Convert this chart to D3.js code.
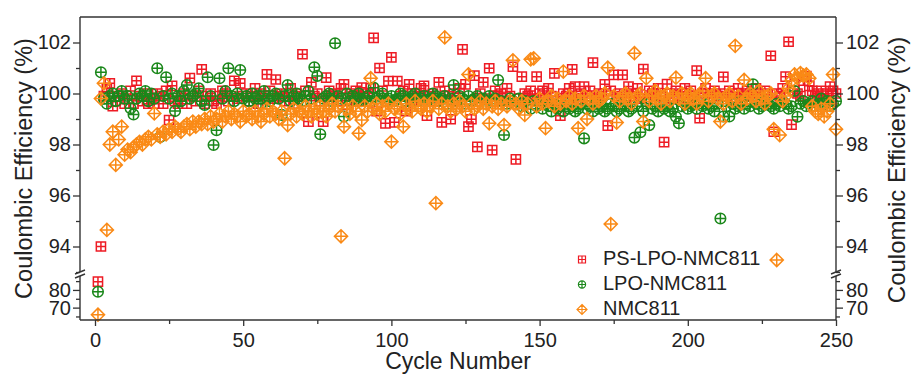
<!DOCTYPE html>
<html>
<head>
<meta charset="utf-8">
<script src="https://cdn.jsdelivr.net/npm/d3@7/dist/d3.min.js"></script>
<style>
  html, body { margin: 0; padding: 0; background: #fff; }
  svg { display: block; }
  text { font-family: "Liberation Sans", Arial, Helvetica, sans-serif; fill: #222; }
</style>
</head>
<body>
<svg id="chart" width="911" height="374"></svg>
<script>
// ---------------- DATA ----------------
const seriesNames = ["PS-LPO-NMC811", "LPO-NMC811", "NMC811"];
const xTicks = [0, 50, 100, 150, 200, 250];
const xMinorTicks = [25, 75, 125, 175, 225];
const yUpperTicks = [94, 96, 98, 100, 102];
const yUpperMinorTicks = [93, 95, 97, 99, 101];
const yLowerTicks = [70, 80];
const yLowerMinorTicks = [65, 75, 85];

// cycles 1..250
const psLpoNmc811 = [
  84.7, 94.0, 99.9, 100.2, 100.4, 99.5, 99.7, 99.9, 100.0, 99.6,
  99.8, 100.1, 99.6, 100.5, 99.9, 99.7, 100.0, 99.6, 99.8, 99.6,
  100.0, 99.9, 99.6, 100.1, 98.96, 100.3, 99.7, 99.6, 99.9, 100.0,
  99.6, 100.6, 99.9, 99.7, 100.1, 100.95, 99.6, 99.9, 100.0, 99.7,
  99.6, 99.9, 100.1, 100.0, 99.7, 99.9, 100.5, 99.8, 100.4, 99.9,
  100.0, 99.7, 99.9, 100.2, 99.6, 100.0, 99.9, 100.75, 100.1, 99.8,
  100.55, 99.9, 100.0, 99.7, 99.87, 100.2, 99.6, 100.0, 99.9, 101.54,
  100.1, 98.9, 100.44, 99.9, 100.0, 99.7, 98.9, 100.62, 100.1, 99.9,
  100.0, 99.7, 100.2, 100.36, 99.55, 100.0, 99.9, 100.1, 99.7, 100.23,
  99.9, 100.0, 100.2, 102.18, 99.31, 101.0, 100.1, 98.83, 100.49, 101.42,
  98.87, 100.49, 99.9, 100.1, 99.31, 100.36, 99.7, 100.0, 99.9, 100.2,
  100.3, 99.13, 99.9, 100.0, 99.7, 100.44, 98.87, 100.1, 99.9, 98.99,
  100.0, 99.7, 100.2, 101.73, 100.36, 98.7, 98.99, 100.7, 97.91, 100.0,
  100.44, 99.8, 100.99, 97.78, 100.1, 99.9, 100.0, 99.7, 100.2, 99.9,
  101.05, 97.42, 99.8, 100.66, 100.0, 99.9, 100.1, 99.8, 100.66, 100.0,
  100.1, 99.8, 100.2, 99.9, 100.79, 99.7, 99.13, 100.0, 99.9, 100.2,
  100.95, 100.27, 99.8, 100.0, 100.27, 99.9, 100.1, 101.21, 99.8, 100.0,
  99.9, 100.36, 98.74, 100.1, 100.73, 99.9, 100.0, 100.73, 99.8, 100.27,
  100.0, 99.9, 100.2, 99.8, 100.96, 99.68, 100.1, 100.0, 99.9, 100.2,
  99.9, 98.09, 100.37, 100.0, 99.8, 100.1, 99.9, 100.0, 100.2, 99.8,
  100.1, 99.9, 100.9, 99.03, 100.0, 100.2, 99.8, 100.0, 100.1, 99.9,
  100.0, 100.65, 99.9, 100.1, 100.0, 99.8, 100.2, 100.0, 99.9, 100.1,
  100.0, 99.9, 100.2, 100.0, 99.8, 100.1, 100.0, 101.48, 98.5, 100.0,
  99.9, 100.2, 100.66, 102.03, 98.78, 100.1, 100.0, 99.9, 100.5, 100.68,
  100.3, 100.1, 99.9, 100.0, 100.1, 99.8, 100.0, 100.27, 100.1, 100.0
];

const lpoNmc811 = [
  79.0, 100.83, 99.8, 99.6, 99.9, 100.0, 99.7, 99.9, 100.1, 99.8,
  99.9, 99.42, 99.18, 99.8, 100.0, 99.9, 100.1, 99.7, 100.0, 99.8,
  100.99, 98.3, 99.9, 100.64, 99.8, 100.0, 99.31, 99.9, 99.7, 100.1,
  100.33, 99.8, 99.9, 100.0, 100.2, 99.7, 99.55, 100.64, 99.9, 97.98,
  98.56, 100.6, 99.8, 100.1, 100.99, 99.9, 99.7, 100.0, 100.92, 99.8,
  99.9, 99.7, 100.0, 99.8, 99.9, 99.6, 100.1, 99.8, 99.7, 99.9,
  100.0, 99.8, 99.16, 99.9, 100.33, 99.7, 99.9, 100.0, 99.8, 99.7,
  99.9, 100.1, 99.8, 101.03, 100.69, 98.4, 99.8, 99.9, 100.0, 99.7,
  101.97, 99.9, 99.8, 99.1, 100.0, 99.7, 99.9, 99.8, 100.0, 99.7,
  99.8, 99.9, 99.7, 100.23, 99.8, 99.9, 100.0, 99.7, 99.8, 99.9,
  99.7, 99.8, 100.0, 99.9, 99.7, 99.8, 99.9, 100.0, 99.7, 99.8,
  99.9, 99.7, 99.8, 100.0, 99.9, 99.7, 99.8, 99.9, 99.6, 99.8,
  100.33, 99.7, 99.9, 99.8, 99.6, 99.9, 99.7, 99.8, 99.9, 99.7,
  99.8, 99.6, 99.9, 99.7, 99.8, 100.53, 99.7, 98.37, 99.6, 99.8,
  99.7, 99.6, 99.8, 99.5, 99.7, 99.6, 99.4, 99.7, 99.5, 99.6,
  99.4, 99.6, 99.5, 99.3, 99.6, 99.4, 99.5, 99.3, 99.6, 99.4,
  99.5, 99.3, 99.4, 99.6, 98.24, 99.4, 99.5, 99.3, 99.6, 99.4,
  99.5, 99.3, 99.4, 99.6, 99.5, 99.3, 99.4, 99.6, 99.5, 99.3,
  99.4, 98.27, 99.5, 98.48, 99.3, 99.6, 98.76, 99.4, 99.5, 99.3,
  99.6, 99.4, 99.5, 99.3, 99.4, 99.09, 98.83, 99.5, 99.6, 99.4,
  99.5, 99.6, 99.4, 99.7, 99.5, 99.6, 99.4, 99.5, 99.3, 99.6,
  95.1, 99.1, 99.5, 99.1, 99.6, 99.4, 99.5, 99.7, 99.4, 99.6,
  99.5, 100.36, 99.6, 99.4, 99.5, 99.7, 99.6, 99.5, 99.4, 99.6,
  99.5, 99.7, 99.6, 99.4, 99.5, 100.1, 99.09, 99.6, 99.7, 99.5,
  99.6, 99.7, 99.5, 99.6, 99.8, 99.6, 99.7, 99.5, 99.6, 99.7
];

const nmc811 = [
  66.0, 99.8, 100.4, 94.65, 98.0, 98.5, 97.2, 98.2, 98.7, 97.6,
  97.8, 97.7, 97.9, 98.0, 98.1, 98.0, 98.2, 98.3, 98.2, 99.22,
  98.4, 98.3, 98.5, 98.4, 98.6, 98.5, 98.7, 98.6, 98.5, 98.7,
  98.8, 98.6, 98.9, 98.7, 98.9, 98.8, 99.0, 98.8, 99.1, 98.9,
  99.0, 99.2, 98.9, 99.1, 99.3, 99.0, 99.2, 99.1, 98.9, 99.3,
  99.1, 99.2, 99.0, 99.3, 99.1, 98.9, 99.2, 99.4, 99.1, 99.3,
  99.2, 99.0, 99.3, 97.46, 98.76, 99.2, 99.4, 99.1, 99.3, 99.2,
  99.5, 99.3, 99.1, 99.4, 99.2, 99.5, 99.3, 99.1, 99.4, 99.6,
  99.3, 99.5, 94.4, 98.7, 99.4, 99.2, 99.5, 99.3, 98.44, 98.96,
  99.5, 99.3, 100.6, 99.4, 99.6, 99.2, 99.5, 99.3, 99.6, 98.11,
  99.4, 99.5, 99.2, 98.7, 99.6, 99.4, 99.3, 99.7, 99.5, 99.4,
  99.6, 99.3, 99.5, 99.7, 95.7, 99.4, 99.6, 102.2, 99.5, 99.3,
  99.6, 99.4, 99.7, 99.5, 99.3, 100.75, 99.6, 99.4, 99.5, 99.7,
  99.4, 99.6, 98.83, 99.5, 99.7, 99.4, 99.6, 98.76, 99.5, 99.7,
  101.3, 99.6, 99.4, 99.7, 99.16, 99.6, 101.34, 101.38, 99.5, 99.8,
  99.6, 98.64, 99.7, 99.9, 99.5, 99.8, 99.6, 100.86, 99.7, 99.9,
  99.6, 99.8, 98.64, 99.7, 99.9, 99.0, 99.8, 99.6, 99.9, 99.7,
  99.8, 100.0, 101.01, 94.88, 99.9, 98.86, 99.7, 99.9, 100.0, 99.8,
  99.6, 101.58, 99.9, 100.0, 98.9, 100.6, 99.7, 99.9, 100.1, 99.8,
  99.6, 99.9, 100.0, 99.7, 99.9, 100.62, 99.8, 100.0, 99.6, 99.9,
  100.0, 99.8, 99.6, 99.9, 100.1, 100.6, 99.7, 99.9, 100.0, 99.8,
  98.9, 99.6, 99.9, 100.0, 99.7, 101.87, 99.9, 99.6, 100.53, 99.8,
  100.0, 99.9, 99.7, 100.1, 99.8, 99.6, 99.9, 100.0, 98.6, 93.47,
  98.37, 99.7, 99.9, 100.2, 100.5, 100.75, 100.6, 100.8, 100.7, 100.75,
  100.6, 99.5, 99.3, 99.2, 99.4, 99.1, 99.3, 99.6, 100.75, 98.6
];

const seriesValues = [psLpoNmc811, lpoNmc811, nmc811];
const seriesColors = ["#ee1b24", "#1b881b", "#fa8a16"];
const seriesShapes = ["square", "circle", "diamond"];

// ---------------- LAYOUT ----------------
const svg = d3.select("#chart");
svg.append("rect").attr("width", 911).attr("height", 374).attr("fill", "#fff");

const pL = 80, pR = 836, pT = 17, pB = 320;
const x = d3.scaleLinear().domain([-5.06, 250]).range([pL, pR]);
const yUp = d3.scaleLinear().domain([93, 103]).range([272, pT]);
const yLow = d3.scaleLinear().domain([63, 88]).range([pB, 275.8]);
const yPos = v => (v >= 90 ? yUp(v) : yLow(v));

function markerPath(shape, s) {
  if (shape === "square") {
    return `M${-s},${-s}H${s}V${s}H${-s}Z M0,${-s}V${s} M${-s},0H${s}`;
  } else if (shape === "circle") {
    return `M${s},0A${s},${s} 0 1,1 ${-s},0A${s},${s} 0 1,1 ${s},0Z M0,${-s}V${s} M${-s},0H${s}`;
  } else {
    return `M0,${-s}L${s},0L0,${s}L${-s},0Z M0,${-s}V${s} M${-s},0H${s}`;
  }
}
const markerSize = { square: 4.6, circle: 5.3, diamond: 6.6 };

// ---------------- DATA MARKS ----------------
const plot = svg.append("g");
seriesValues.forEach((vals, si) => {
  const shape = seriesShapes[si];
  plot.append("g")
    .selectAll("path")
    .data(vals.map((v, i) => ({ c: i + 1, v })))
    .join("path")
    .attr("transform", d => `translate(${x(d.c)},${yPos(d.v)})`)
    .attr("d", markerPath(shape, markerSize[shape]))
    .attr("fill", "none")
    .attr("stroke", seriesColors[si])
    .attr("stroke-width", 1.5);
});

// ---------------- AXES ----------------
const axisColor = "#333";
const fontSize = 20;

function styleAxis(g) {
  g.select(".domain").remove();
  g.selectAll(".tick line").attr("stroke", axisColor).attr("stroke-width", 1.3);
  g.selectAll(".tick text").attr("font-size", fontSize).attr("fill", "#222")
    .attr("font-family", '"Liberation Sans", Arial, sans-serif');
}

// bottom
svg.append("g").attr("transform", `translate(0,${pB})`)
  .call(d3.axisBottom(x).tickValues(xTicks).tickSize(6).tickPadding(7))
  .call(styleAxis);
svg.append("g").attr("transform", `translate(0,${pB})`)
  .call(d3.axisBottom(x).tickValues(xMinorTicks).tickSize(4).tickFormat(""))
  .call(styleAxis);

// left & right
[[yUp, yUpperTicks, yUpperMinorTicks], [yLow, yLowerTicks, yLowerMinorTicks]].forEach(([sc, maj, min]) => {
  svg.append("g").attr("transform", `translate(${pL},0)`)
    .call(d3.axisLeft(sc).tickValues(maj).tickSize(7).tickPadding(2))
    .call(styleAxis);
  svg.append("g").attr("transform", `translate(${pL},0)`)
    .call(d3.axisLeft(sc).tickValues(min).tickSize(4).tickFormat(""))
    .call(styleAxis);
  svg.append("g").attr("transform", `translate(${pR},0)`)
    .call(d3.axisRight(sc).tickValues(maj).tickSize(7).tickPadding(3))
    .call(styleAxis);
  svg.append("g").attr("transform", `translate(${pR},0)`)
    .call(d3.axisRight(sc).tickValues(min).tickSize(4).tickFormat(""))
    .call(styleAxis);
});

// frame with break gaps
const frame = svg.append("g").attr("stroke", axisColor).attr("stroke-width", 1.4).attr("fill", "none");
frame.append("line").attr("x1", pL).attr("x2", pR).attr("y1", pT).attr("y2", pT);
frame.append("line").attr("x1", pL).attr("x2", pR).attr("y1", pB).attr("y2", pB);
[pL, pR].forEach(ax => {
  frame.append("line").attr("x1", ax).attr("x2", ax).attr("y1", pT).attr("y2", 272);
  frame.append("line").attr("x1", ax).attr("x2", ax).attr("y1", 276).attr("y2", pB);
  frame.append("line").attr("x1", ax - 5).attr("x2", ax + 5).attr("y1", 274).attr("y2", 270);
  frame.append("line").attr("x1", ax - 5).attr("x2", ax + 5).attr("y1", 278).attr("y2", 274);
});

// axis titles
svg.append("text")
  .attr("transform", "translate(32,168.5) rotate(-90)")
  .attr("text-anchor", "middle").attr("font-size", 23.5)
  .text("Coulombic Efficiency (%)");
svg.append("text")
  .attr("transform", "translate(905,170) rotate(-90)")
  .attr("text-anchor", "middle").attr("font-size", 24)
  .text("Coulombic Efficiency (%)");
svg.append("text")
  .attr("x", (pL + pR) / 2).attr("y", 369)
  .attr("text-anchor", "middle").attr("font-size", 23)
  .text("Cycle Number");

// ---------------- LEGEND ----------------
const legendRows = [258.5, 283.5, 308.5];
const legendMarkerSize = { square: 3.5, circle: 3.6, diamond: 5 };
seriesNames.forEach((name, i) => {
  const shape = seriesShapes[i];
  svg.append("path")
    .attr("transform", `translate(582,${legendRows[i] + 1})`)
    .attr("d", markerPath(shape, legendMarkerSize[shape]))
    .attr("fill", "none").attr("stroke", seriesColors[i]).attr("stroke-width", 1.2);
  svg.append("text")
    .attr("x", 603).attr("y", legendRows[i] + 6.8)
    .attr("font-size", fontSize)
    .text(name);
});
</script>
</body>
</html>
